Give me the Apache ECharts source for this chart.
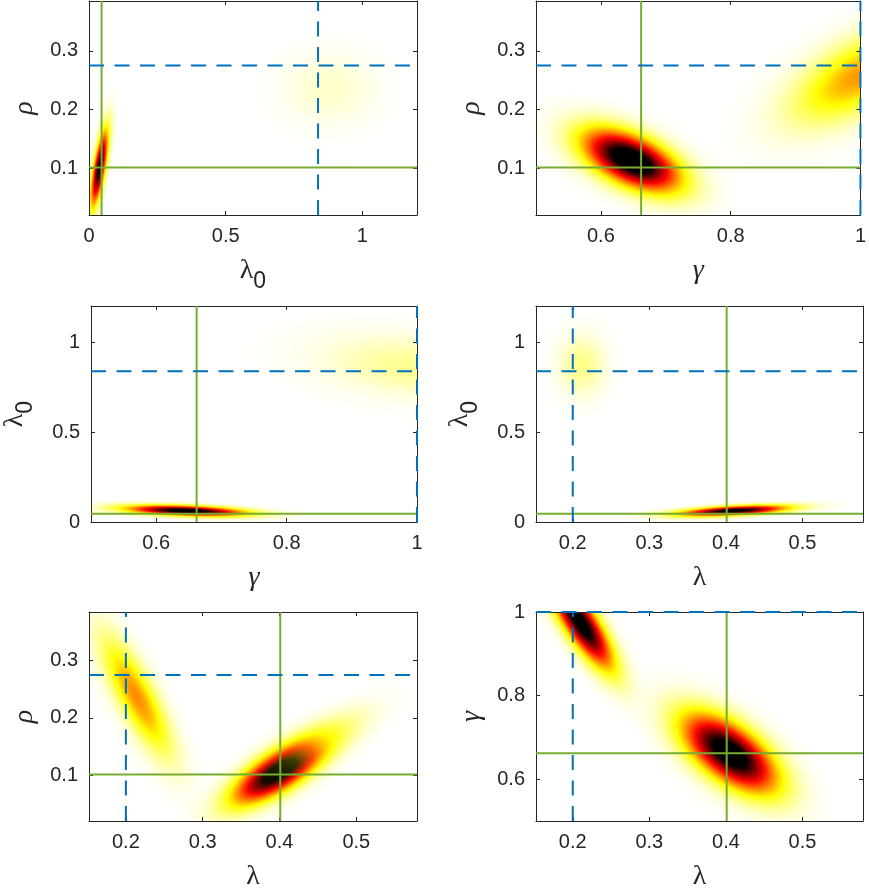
<!DOCTYPE html>
<html><head><meta charset="utf-8">
<script src="https://cdn.jsdelivr.net/npm/echarts@6/dist/echarts.min.js"></script>
<style>html,body{margin:0;padding:0;background:#fff}#c{width:869px;height:892px}</style>
</head><body><div id="c"></div>
<script>
// ---------------- data ----------------
// parameters: 0 = λ0, 1 = ρ, 2 = γ, 3 = λ
const paramLabels = ['{up|λ}{sub|0}{pad| }', '{it|ρ}', '{it|γ}', '{up|λ}'];
const axisMin = [0, 0.02, 0.5, 0.152];
const axisMax = [1.2, 0.385, 1.0, 0.579];
const tickValues = [[0, 0.5, 1], [0.1, 0.2, 0.3], [0.6, 0.8, 1], [0.2, 0.3, 0.4, 0.5]];
const solidValues = [0.046, 0.101, 0.662, 0.401];   // green solid lines
const dashedValues = [0.838, 0.275, 1.0, 0.2];      // blue dashed lines
const panelX = [0, 2, 2, 3, 3, 3];
const panelY = [1, 1, 0, 0, 1, 2];
// density blobs: [centerX, centerY, sdX, sdY, correlation, peak]
const blobsPanel1 = [[0.038, 0.1, 0.021, 0.043, 0.72, 1.0], [0.88, 0.235, 0.11, 0.04, 0.0, 0.055]];
const blobsPanel2 = [[0.647, 0.113, 0.048, 0.034, -0.55, 1.2], [1.0, 0.258, 0.068, 0.053, 0.62, 0.4]];
const blobsPanel3 = [[0.646, 0.062, 0.059, 0.0195, -0.4, 1.1], [1.0, 0.86, 0.095, 0.115, -0.3, 0.11]];
const blobsPanel4 = [[0.41, 0.062, 0.046, 0.0195, 0.53, 1.05], [0.212, 0.87, 0.02, 0.11, 0.0, 0.12]];
const blobsPanel5 = [[0.401, 0.108, 0.039, 0.037, 0.76, 1.15], [0.46, 0.165, 0.04, 0.035, 0.75, 0.12], [0.214, 0.237, 0.0297, 0.068, -0.81, 0.42]];
const blobsPanel6 = [[0.405, 0.662, 0.04, 0.061, -0.62, 1.15], [0.21, 0.975, 0.0274, 0.0717, -0.82, 1.1]];
const panelBlobs = [blobsPanel1, blobsPanel2, blobsPanel3, blobsPanel4, blobsPanel5, blobsPanel6];

// ---------------- layout / style ----------------
const TXT = '#262626', GREEN = '#77AC30', BLUE = '#0072BD';
const gridLefts = [89, 536], gridWidths = [328, 327];
const gridTops = [1, 306, 612], gridHeights = [214, 216, 216];
const nameRich = {
  up: {fontFamily: 'Liberation Serif', fontSize: 28, lineHeight: 28, verticalAlign: 'top', color: TXT},
  it: {fontFamily: 'Liberation Serif', fontStyle: 'italic', fontSize: 28, lineHeight: 28, color: TXT},
  sub: {fontFamily: 'Liberation Sans', fontSize: 23, lineHeight: 23, verticalAlign: 'bottom', color: TXT},
  pad: {fontSize: 1, lineHeight: 36}
};
const SPREAD = 3.5;

function cmap(v) {
  v = Math.max(0, Math.min(1, v));
  if (v < 0.25) return 'rgba(255,255,0,' + (v / 0.25).toFixed(4) + ')';
  if (v < 0.625) return 'rgb(255,' + Math.round(255 * (1 - (v - 0.25) / 0.375)) + ',0)';
  return 'rgb(' + Math.round(255 * (1 - (v - 0.625) / 0.375)) + ',0,0)';
}
function blobFill(peak) {
  const stops = [];
  const n = 40;
  for (let i = 0; i <= n; i++) {
    const t = i / n, r = SPREAD * t;
    stops.push({offset: t, color: i === n ? 'rgba(255,255,0,0)' : cmap(peak * Math.exp(-r * r / 2))});
  }
  return new echarts.graphic.RadialGradient(0.5, 0.5, 0.5, stops);
}
function renderBlob(params, api) {
  const cx = api.value(0), cy = api.value(1), sx = api.value(2), sy = api.value(3), cr = api.value(4), pk = api.value(5);
  const c = api.coord([cx, cy]);
  const unit = api.size([1, 1]);
  const px = sx * unit[0], py = sy * unit[1];
  const cov = -cr * px * py;
  const a2 = px * px, b2 = py * py;
  const m = (a2 + b2) / 2, d = Math.sqrt(((a2 - b2) / 2) ** 2 + cov * cov);
  const l1 = m + d, l2 = Math.max(m - d, 1e-6);
  const th = 0.5 * Math.atan2(2 * cov, a2 - b2);
  const R = 100;
  return {
    type: 'circle', shape: {cx: 0, cy: 0, r: R},
    x: c[0], y: c[1],
    scaleX: SPREAD * Math.sqrt(l1) / R, scaleY: SPREAD * Math.sqrt(l2) / R,
    rotation: -th,
    style: {fill: blobFill(pk), stroke: null},
    silent: true
  };
}

const grids = [], xAxes = [], yAxes = [], series = [];
for (let p = 0; p < 6; p++) {
  const col = p % 2, row = Math.floor(p / 2);
  grids.push({left: gridLefts[col], top: gridTops[row], width: gridWidths[col], height: gridHeights[row], show: false});
  const xp = panelX[p], yp = panelY[p];
  const base = (pi) => ({
    type: 'value', min: axisMin[pi], max: axisMax[pi], gridIndex: p, z: 10,
    splitLine: {show: false},
    axisLine: {show: true, onZero: false, lineStyle: {color: TXT, width: 1}},
    axisTick: {show: true, inside: true, length: 4, customValues: tickValues[pi], lineStyle: {color: TXT}}
  });
  const lab = (pi) => ({customValues: tickValues[pi], margin: 11, color: TXT, fontSize: 20, fontFamily: 'Liberation Sans'});
  xAxes.push(Object.assign(base(xp), {position: 'bottom', name: paramLabels[xp], nameLocation: 'middle', nameGap: 42,
    nameTextStyle: {rich: nameRich}, axisLabel: lab(xp)}));
  xAxes.push(Object.assign(base(xp), {position: 'top', axisLabel: {show: false}}));
  yAxes.push(Object.assign(base(yp), {position: 'left', name: paramLabels[yp], nameLocation: 'middle', nameGap: yp === 0 ? 54 : 50,
    nameTextStyle: {rich: nameRich}, axisLabel: lab(yp)}));
  yAxes.push(Object.assign(base(yp), {position: 'right', axisLabel: {show: false}}));

  const ai = {xAxisIndex: 2 * p, yAxisIndex: 2 * p};
  series.push(Object.assign({type: 'custom', coordinateSystem: 'cartesian2d', clip: true, z: 2, silent: true,
    data: panelBlobs[p], renderItem: renderBlob}, ai));
  const lineSeries = (data, color, type) => Object.assign({type: 'line', data: data, symbol: 'none', silent: true, z: 20, clip: false,
    lineStyle: {color: color, width: 2, type: type}}, ai);
  series.push(lineSeries([[solidValues[xp], axisMin[yp]], [solidValues[xp], axisMax[yp]]], GREEN, 'solid'));
  series.push(lineSeries([[axisMin[xp], solidValues[yp]], [axisMax[xp], solidValues[yp]]], GREEN, 'solid'));
  series.push(lineSeries([[dashedValues[xp], axisMin[yp]], [dashedValues[xp], axisMax[yp]]], BLUE, [15, 10.5]));
  series.push(lineSeries([[axisMin[xp], dashedValues[yp]], [axisMax[xp], dashedValues[yp]]], BLUE, [15, 10.5]));
}

const chart = echarts.init(document.getElementById('c'), null, {renderer: 'canvas'});
chart.setOption({animation: false, backgroundColor: '#fff', grid: grids, xAxis: xAxes, yAxis: yAxes, series: series});
</script>
</body></html>
